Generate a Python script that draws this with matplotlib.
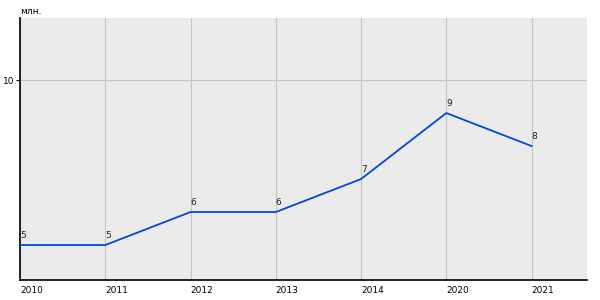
import numpy as np
import matplotlib.pyplot as plt

# Данные
years = ['2010', '2011', '2012', '2013', '2014', '2020', '2021']
values = [5, 5, 6, 6, 7, 9, 8]

x = np.arange(len(years))

fig = plt.figure(figsize=(6, 3), dpi=100)
ax = fig.add_axes([20/600, 20/300, 567/600, 262/300])
ax.set_facecolor('#ebebeb')

ax.plot(x, values, color='#0047e0', linewidth=1.3, zorder=3)
for xi, v in zip(x, values):
    ax.annotate(str(v), (xi, v), xytext=(0, 3.5), textcoords='offset points',
                ha='left', va='bottom', fontsize=6.5, color='#222222')

ax.set_xlim(0, 6.65)
ax.set_ylim(3.94, 11.88)
ax.set_xticks(x)
ax.set_xticklabels(years, ha='left', fontsize=6.5)
ax.set_yticks([10])
ax.set_yticklabels(['10'], fontsize=6.5)
ax.tick_params(axis='x', length=0, pad=4)
ax.tick_params(axis='y', length=3, pad=1)
ax.grid(True, color='#c4c4c4', linewidth=0.8, zorder=0)
ax.set_axisbelow(True)

for s in ['top', 'right']:
    ax.spines[s].set_visible(False)
for s in ['left', 'bottom']:
    ax.spines[s].set_color('black')
    ax.spines[s].set_linewidth(1.2)

fig.text(20/600, 1 - 12/300, 'млн.', fontsize=6.5, ha='left', va='center')

fig.savefig('out.png', dpi=100)
